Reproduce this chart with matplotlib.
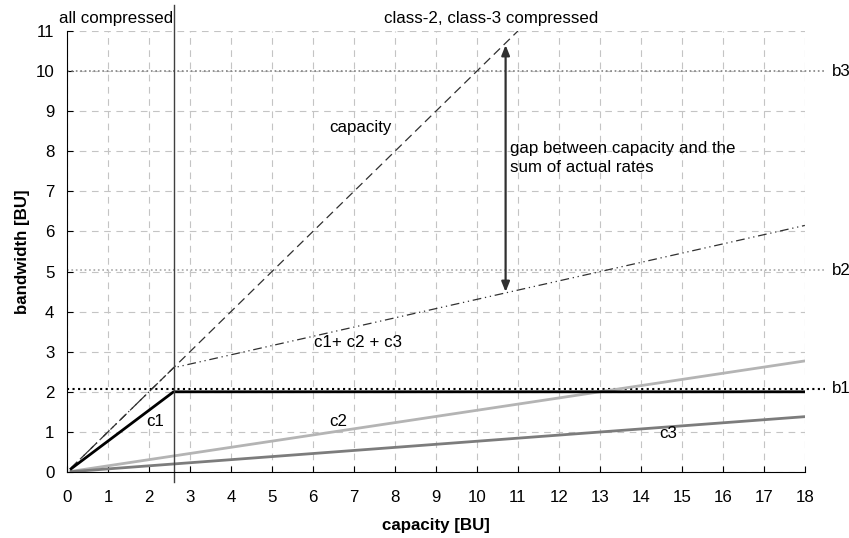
import matplotlib
matplotlib.use("Agg")
import matplotlib.pyplot as plt

plt.rcParams['font.family'] = ['Liberation Sans', 'DejaVu Sans']

# data
x_pts = [0.1, 2.6, 18]
c1 = [0.08, 2.0, 2.0]
c2 = [0.015, 0.40, 2.77]
c3 = [0.008, 0.20, 1.38]
c_sum = [0.1, 2.6, 6.15]
cap_x = [0.1, 11]
cap_y = [0.1, 11]
b_levels = {'b1': 2.07, 'b2': 5.03, 'b3': 10.0}
x_knee = 2.6
gap_x = 10.7
gap_lo, gap_hi = 4.49, 10.65

FS = 12.2

fig = plt.figure(figsize=(8.49, 5.38), dpi=100)
ax = fig.add_axes([0.0789, 0.1227, 0.948 - 0.0789, 0.9424 - 0.1227])

ax.set_xlim(0, 18)
ax.set_ylim(0, 11)
ax.set_xticks(range(0, 19))
ax.set_yticks(range(0, 12))
ax.grid(True, color='#c4c4c4', linestyle=(0, (6, 5)), linewidth=0.8)
ax.set_axisbelow(True)
for s in ['top', 'right']:
    ax.spines[s].set_visible(False)
ax.tick_params(direction='in', length=4, labelsize=FS)
ax.tick_params(axis='x', pad=13)
ax.tick_params(axis='y', pad=9)

# reference levels
ax.plot([0, 18.5], [b_levels['b3']] * 2, color='#808080', ls=':', lw=1.2, clip_on=False)
ax.plot([0, 18.5], [b_levels['b2']] * 2, color='#a8a8a8', ls=':', lw=1.2, clip_on=False)
ax.plot([0, 18.5], [b_levels['b1']] * 2, color='black', ls=':', lw=1.5, clip_on=False)
for name, lvl in b_levels.items():
    ax.text(18.65, lvl, name, fontsize=FS, va='center', ha='left')

# series
ax.plot(cap_x, cap_y, color='#303030', ls=(0, (7, 4)), lw=0.9)
ax.plot(x_pts, c_sum, color='#303030', ls=(0, (7, 3, 1, 3, 1, 3)), lw=0.9)
ax.plot(x_pts, c2, color='#b4b4b4', lw=2)
ax.plot(x_pts, c3, color='#7c7c7c', lw=2)
ax.plot(x_pts, c1, color='black', lw=2)

# compression boundary
ax.plot([x_knee, x_knee], [-0.25, 11.65], color='#404040', lw=1, clip_on=False)

# gap arrow
ax.annotate('', xy=(gap_x, gap_hi), xytext=(gap_x, gap_lo),
            arrowprops=dict(arrowstyle='<|-|>,head_length=0.5,head_width=0.2',
                            color='#303030', lw=1.6,
                            mutation_scale=12, shrinkA=0, shrinkB=0))

ax.text(7.15, 8.6, 'capacity', fontsize=FS, ha='center', va='center')
ax.text(10.8, 7.83, 'gap between capacity and the\nsum of actual rates',
        fontsize=FS, ha='left', va='center', linespacing=1.38)
ax.text(7.1, 3.22, 'c1+ c2 + c3', fontsize=FS, ha='center', va='center')
ax.text(2.15, 1.25, 'c1', fontsize=FS, ha='center', va='center')
ax.text(6.61, 1.27, 'c2', fontsize=FS, ha='center', va='center')
ax.text(14.66, 0.97, 'c3', fontsize=FS, ha='center', va='center')
ax.text(1.2, 11.32, 'all compressed', fontsize=FS, ha='center', va='center')
ax.text(10.35, 11.32, 'class-2, class-3 compressed', fontsize=FS, ha='center', va='center')

ax.set_xlabel('capacity [BU]', fontsize=FS, fontweight='bold', labelpad=9)
ax.set_ylabel('bandwidth [BU]', fontsize=FS, fontweight='bold', labelpad=4)

fig.savefig('out.png', dpi=100)
